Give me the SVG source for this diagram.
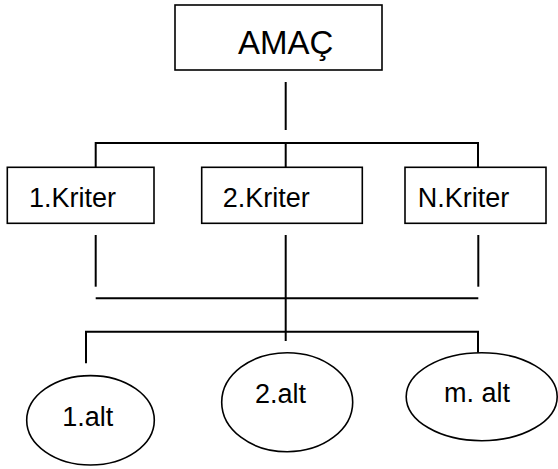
<svg xmlns="http://www.w3.org/2000/svg" width="558" height="469" viewBox="0 0 558 469">
<style>
.box{fill:#fff;stroke:#000;stroke-width:1.6}
.t{font-family:"Liberation Sans",Arial,sans-serif;font-size:27px;fill:#000}
.c{fill:none;stroke:#000;stroke-width:2}
</style>
<rect width="558" height="469" fill="#fff"/>
<g id="connectors">
<line class="c" x1="285.7" y1="82" x2="285.7" y2="130"/>
<polyline class="c" points="95.7,167.3 95.7,143 478,143 478,167.3"/>
<line class="c" x1="285.7" y1="143" x2="285.7" y2="167.3"/>
<line class="c" x1="95.7" y1="235" x2="95.7" y2="286.7"/>
<line class="c" x1="478.3" y1="235" x2="478.3" y2="286.7"/>
<line class="c" x1="285.7" y1="235" x2="285.7" y2="341"/>
<line class="c" x1="95.7" y1="298.3" x2="478.3" y2="298.3"/>
<polyline class="c" points="86,363.3 86,331.7 478,331.7 478,352.7"/>
</g>
<g id="amac">
<rect class="box" x="175" y="5" width="207" height="65"/>
<text class="t" x="238" y="54" style="font-size:33px">AMAÇ</text>
</g>
<g id="kriter1">
<rect class="box" x="7.3" y="167.3" width="146.7" height="56"/>
<text class="t" x="29" y="206.7">1.Kriter</text>
</g>
<g id="kriter2">
<rect class="box" x="201.7" y="167.3" width="160.6" height="56"/>
<text class="t" x="222.7" y="206.7">2.Kriter</text>
</g>
<g id="kriterN">
<rect class="box" x="405" y="167.3" width="141" height="56"/>
<text class="t" x="417.7" y="206.7">N.Kriter</text>
</g>
<g id="alt1">
<ellipse class="box" cx="90.5" cy="420.3" rx="63.8" ry="44.7"/>
<text class="t" x="62.3" y="425.7">1.alt</text>
</g>
<g id="alt2">
<ellipse class="box" cx="287.2" cy="402.2" rx="65.5" ry="49.5"/>
<text class="t" x="255" y="403.3">2.alt</text>
</g>
<g id="altm">
<ellipse class="box" cx="481.7" cy="396.7" rx="75.5" ry="44"/>
<text class="t" x="444" y="401.7">m. alt</text>
</g>
</svg>
